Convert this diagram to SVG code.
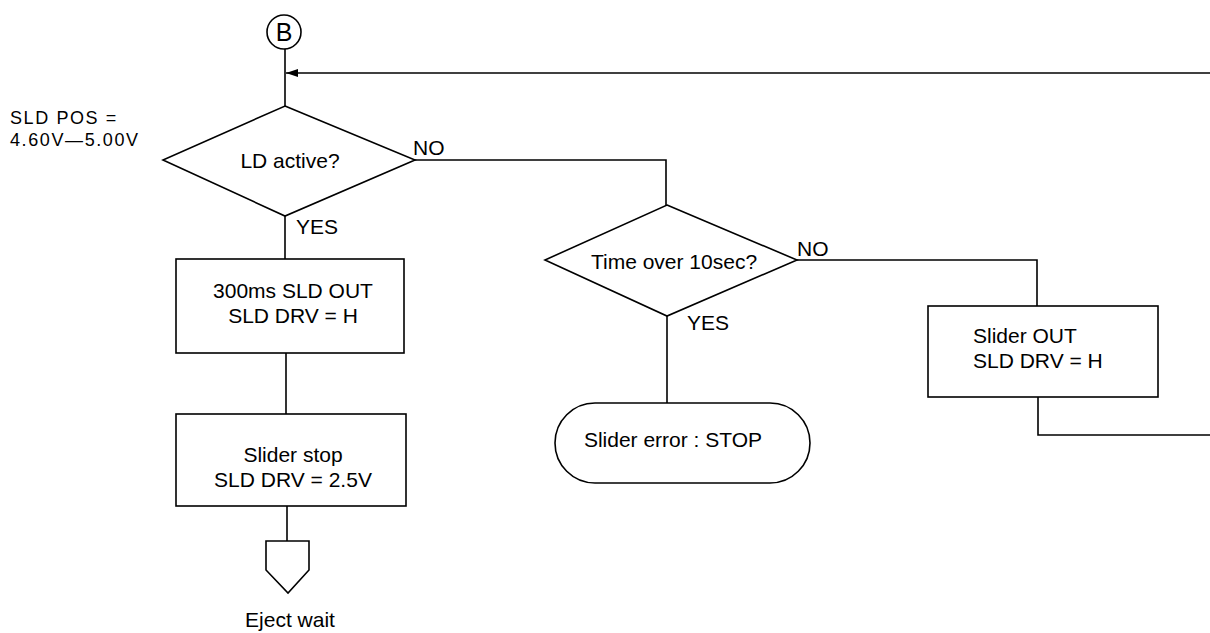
<svg xmlns="http://www.w3.org/2000/svg" width="1210" height="633" viewBox="0 0 1210 633">
<defs>
<style>
.s{fill:#fff;stroke:#000;stroke-width:1.6}
.c{fill:none;stroke:#000;stroke-width:1.6}
.t{font-family:"Liberation Sans",Arial,sans-serif;font-size:21px;fill:#000}
.m{text-anchor:middle}
.n{font-size:18px;letter-spacing:1.6px}
</style>
<marker id="ah" markerWidth="12" markerHeight="8" refX="12" refY="4" orient="auto" markerUnits="userSpaceOnUse">
<path d="M0,0 L12,4 L0,8 Z" fill="#000"/>
</marker>
</defs>
<rect width="1210" height="633" fill="#fff"/>
<g id="connectors">
<line class="c" x1="285" y1="49" x2="285" y2="106"/>
<line class="c" x1="1210" y1="73" x2="286" y2="73" marker-end="url(#ah)"/>
<polyline class="c" points="415,160 666,160 666,205"/>
<line class="c" x1="285" y1="216" x2="285" y2="259"/>
<line class="c" x1="286" y1="353" x2="286" y2="414"/>
<line class="c" x1="287" y1="506" x2="287" y2="541"/>
<polyline class="c" points="797,260 1037,260 1037,306"/>
<polyline class="c" points="1038,397 1038,435 1210,435"/>
<line class="c" x1="667" y1="316" x2="667" y2="403"/>
<text class="t" x="413" y="155">NO</text>
<text class="t" x="296" y="234">YES</text>
<text class="t" x="797" y="256">NO</text>
<text class="t" x="687" y="330">YES</text>
</g>
<g id="connectorB">
<circle class="s" cx="284" cy="32" r="17"/>
<text class="t m" x="284" y="41" style="font-size:25px">B</text>
</g>
<g id="note">
<text class="t n" x="10" y="124">SLD POS =</text>
<text class="t n" x="10" y="146">4.60V—5.00V</text>
</g>
<g id="ldActive">
<polygon class="s" points="285,106 415,160 285,216 163,160"/>
<text class="t m" x="290" y="168">LD active?</text>
</g>
<g id="sldOut">
<rect class="s" x="176" y="259" width="228" height="94"/>
<text class="t m" x="293" y="298">300ms SLD OUT</text>
<text class="t m" x="293" y="323">SLD DRV = H</text>
</g>
<g id="sliderStop">
<rect class="s" x="176" y="414" width="230" height="92"/>
<text class="t m" x="293" y="462">Slider stop</text>
<text class="t m" x="293" y="487">SLD DRV = 2.5V</text>
</g>
<g id="ejectWait">
<polygon class="s" points="266,541 309,541 309,570 288,593 266,570"/>
<text class="t m" x="290" y="627">Eject wait</text>
</g>
<g id="timeOver">
<polygon class="s" points="667,205 797,260 667,316 545,260"/>
<text class="t m" x="674" y="269">Time over 10sec?</text>
</g>
<g id="sliderError">
<rect class="s" x="555" y="403" width="255" height="80" rx="40" ry="40"/>
<text class="t m" x="673" y="447">Slider error : STOP</text>
</g>
<g id="sliderOut">
<rect class="s" x="928" y="306" width="230" height="91"/>
<text class="t" x="973" y="343">Slider OUT</text>
<text class="t" x="973" y="368">SLD DRV = H</text>
</g>
</svg>
